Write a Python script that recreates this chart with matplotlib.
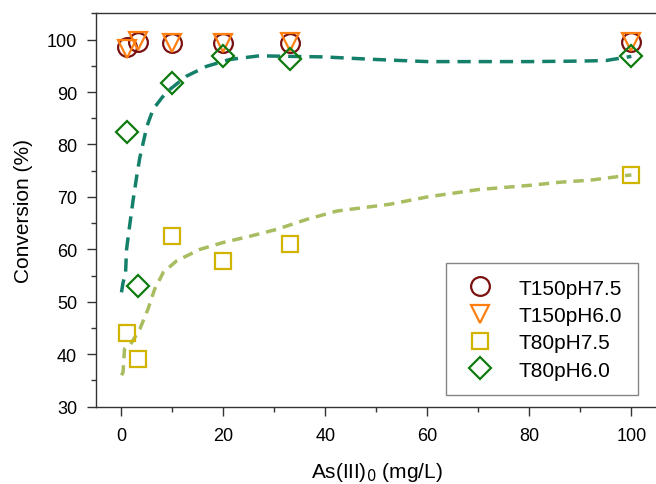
import matplotlib.pyplot as plt
from matplotlib.ticker import MultipleLocator

plt.rcParams['font.family'] = ['Liberation Sans', 'DejaVu Sans']

# measured points
conc = [1, 3.3, 10, 20, 33, 100]
t150_ph75 = [98.5, 99.5, 99.4, 99.4, 99.4, 99.5]
t150_ph60 = [98.2, 99.7, 99.4, 99.4, 99.5, 99.5]
t80_ph75 = [44.1, 39.1, 62.5, 57.7, 61.0, 74.2]
t80_ph60 = [82.3, 53.0, 91.8, 96.9, 96.3, 96.9]

# fitted curves (dashed)
fit60_x = [0, 0.3, 0.8, 1.0, 1.6, 2.3, 3.0, 3.6, 5.0, 6.2, 8.0, 9.5, 12.7, 16.7, 21.2, 27, 33, 39.5, 50, 60, 70, 80, 90, 95, 100]
fit60_y = [51.8, 53.6, 55.5, 60.0, 64.5, 69.5, 74.0, 77.5, 83.5, 86.7, 89.0, 90.5, 93.0, 94.9, 96.2, 96.9, 96.8, 96.7, 96.2, 95.8, 95.8, 95.8, 95.9, 96.0, 96.8]
fit75_x = [0, 0.3, 0.6, 1.6, 3.6, 5.2, 6.5, 8.2, 10.8, 15.4, 19.9, 25.2, 30.4, 36.3, 42.2, 52.6, 60, 70, 80, 86, 92, 100]
fit75_y = [36.0, 36.5, 41.0, 41.6, 44.8, 48.6, 52.4, 55.6, 57.8, 60.0, 61.3, 62.5, 63.8, 65.7, 67.3, 68.6, 70.0, 71.4, 72.2, 72.8, 73.2, 74.2]

fig = plt.figure(figsize=(6.56, 4.85), dpi=100)
ax = fig.add_axes([0.1463, 0.1594, 0.855, 0.811])

ax.plot(fit60_x, fit60_y, color='#14806a', lw=2.5, dashes=(3.8, 2.3), zorder=2)
ax.plot(fit75_x, fit75_y, color='#a8bd60', lw=2.5, dashes=(3.0, 2.0), zorder=2)

ax.plot(conc, t150_ph75, 'o', ms=13.5, mfc='none', mec='#7a1010', mew=1.6, ls='none', label='T150pH7.5', zorder=3)
ax.plot(conc, t150_ph60, 'v', ms=12.5, mfc='none', mec='#ff7f10', mew=1.6, ls='none', label='T150pH6.0', zorder=4)
ax.plot(conc, t80_ph75, 's', ms=11.5, mfc='none', mec='#d0b400', mew=1.6, ls='none', label='T80pH7.5', zorder=3)
ax.plot(conc, t80_ph60, 'D', ms=11, mfc='none', mec='#0f7a0f', mew=1.6, ls='none', label='T80pH6.0', zorder=5)

ax.set_xlim(-5, 105)
ax.set_ylim(30, 105)
ax.xaxis.set_major_locator(MultipleLocator(20))
ax.xaxis.set_minor_locator(MultipleLocator(10))
ax.yaxis.set_minor_locator(MultipleLocator(5))
ax.set_yticks([30, 40, 50, 60, 70, 80, 90, 100])
ax.tick_params(which='both', direction='out', width=1, color='#333333', labelsize=13)
ax.tick_params(which='major', length=6.5)
ax.tick_params(which='minor', length=3.5)
ax.tick_params(axis='x', pad=8)
ax.tick_params(axis='y', pad=7)

for s in ['left', 'bottom', 'top']:
    ax.spines[s].set_color('#333333')
    ax.spines[s].set_linewidth(1)
ax.spines['right'].set_visible(False)

ax.set_xlabel('As(III)$_0$ (mg/L)', fontsize=15, labelpad=12)
ax.set_ylabel('Conversion (%)', fontsize=15, labelpad=10)

leg = ax.legend(loc='upper left', bbox_to_anchor=(0.680, 0.4557), bbox_transform=fig.transFigure,
                borderaxespad=0, fontsize=15, frameon=True, fancybox=False, edgecolor='#666666',
                handletextpad=0.95, borderpad=0.75, labelspacing=0.4, handlelength=1.8)
leg.get_frame().set_linewidth(1)

fig.savefig('out.png', dpi=100)
